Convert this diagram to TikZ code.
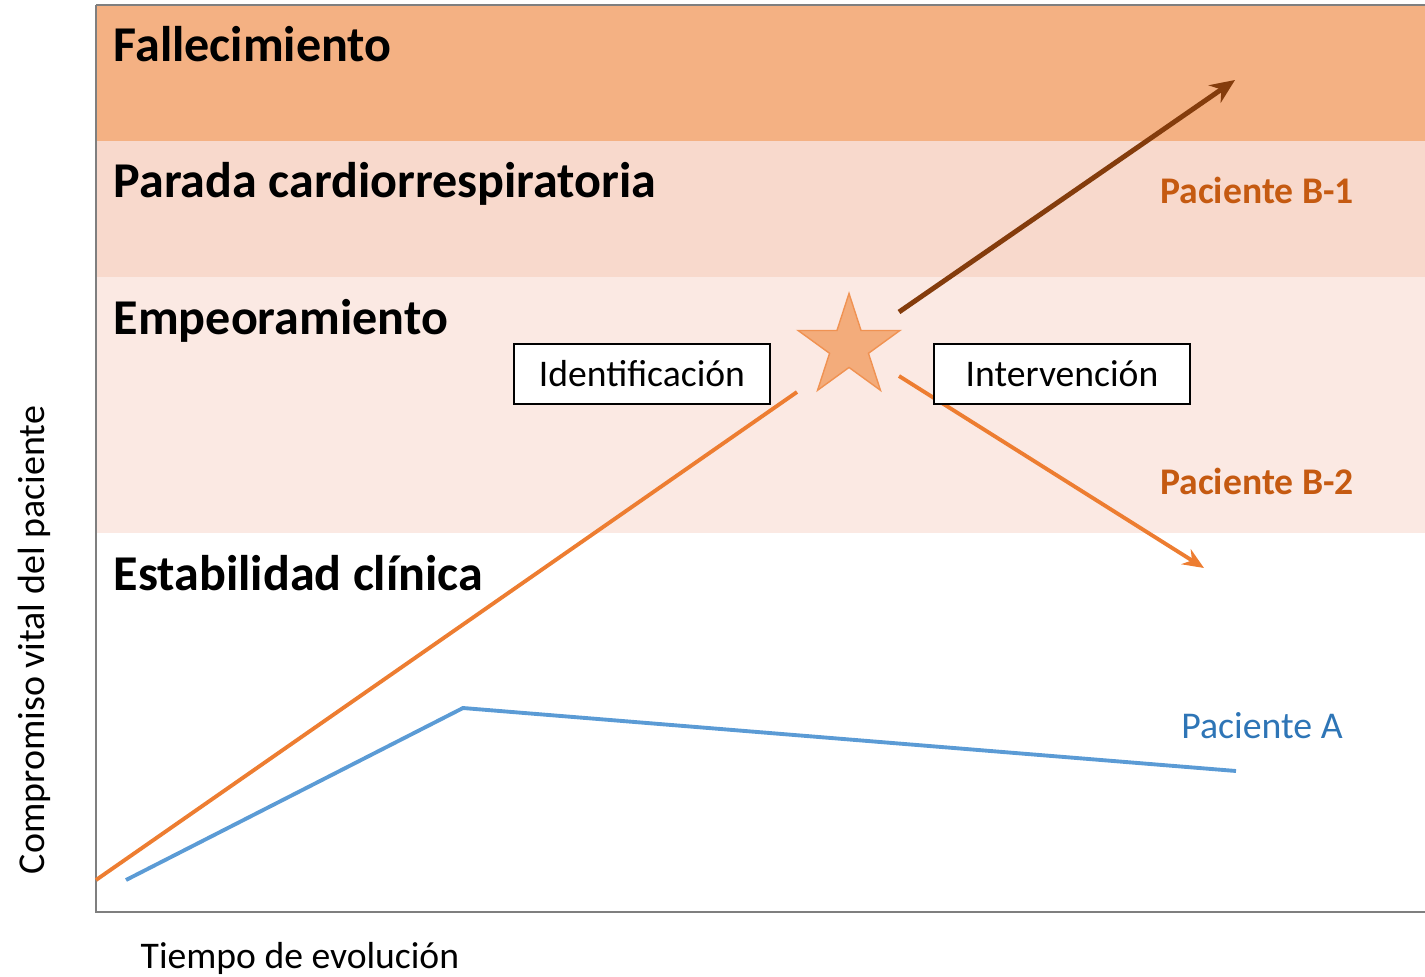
\documentclass[tikz,border=0pt]{standalone}
\usepackage{fontspec}
\setmainfont{Carlito}
\usetikzlibrary{shapes.geometric,arrows.meta}

\definecolor{fallcol}{HTML}{F4B183}
\definecolor{paradacol}{HTML}{F8D9CC}
\definecolor{empcol}{HTML}{FBE9E3}
\definecolor{orangeline}{HTML}{ED7D31}
\definecolor{brownline}{HTML}{843C0C}
\definecolor{blueline}{HTML}{5B9BD5}
\definecolor{bluetext}{HTML}{2E75B6}
\definecolor{labcol}{HTML}{C55A11}
\definecolor{axiscol}{HTML}{7F7F7F}

\begin{document}
\begin{tikzpicture}[x=0.01cm,y=-0.01cm,
	bandlabel/.style={anchor=base west,inner sep=0pt,font=\fontsize{14.25}{16}\selectfont\bfseries},
	patlabel/.style={anchor=base,inner sep=0pt,font=\fontsize{10.7}{12}\selectfont\bfseries,text=labcol},
	stagebox/.style={draw=black,fill=white,line width=0.5pt,minimum width=2.56cm,minimum height=0.6cm,inner sep=0pt,font=\fontsize{10.7}{12}\selectfont}]
			\useasboundingbox (0,0) rectangle (1425,976);
			\pgfmathsetmacro{\xl}{96}
			\pgfmathsetmacro{\xr}{1425}
			% bands
			\fill[fallcol] (\xl,5) rectangle (\xr,141);
			\fill[paradacol] (\xl,141) rectangle (\xr,277);
			\fill[empcol] (\xl,277) rectangle (\xr,533);
			\draw[axiscol,line width=0.6pt] (\xl,5) -- (\xr,5);
			\draw[axiscol,line width=0.6pt] (\xl,5) -- (\xl,912) -- (\xr,912);
			\node[bandlabel] (fall) at (113,62) {Fallecimiento};
			\node[bandlabel] (parada) at (113,198) {Parada cardiorrespiratoria};
			\node[bandlabel] (emp) at (113,334) {Empeoramiento};
			\node[bandlabel] (estab) at (113,590) {Estabilidad clínica};
			% axis titles
			\node[anchor=base west,inner sep=0pt,font=\fontsize{10.7}{12}\selectfont] (xtitle) at (140,968) {Tiempo de evolución};
			\node[rotate=90,inner sep=0pt,font=\fontsize{10.8}{12}\selectfont] (ytitle) at (34,640) {Compromiso vital del paciente};
			% patient A
			\coordinate (a0) at (126,880);
			\coordinate (a1) at (463,708);
			\coordinate (a2) at (1236,771);
			\draw[blueline,line width=1.1pt] (a0) -- (a1) -- (a2);
			\node[anchor=base,inner sep=0pt,font=\fontsize{10.75}{12}\selectfont,text=bluetext] (patA) at (1262,738) {Paciente A};
			% patient B
			\node[star,star points=5,star point ratio=2.618,minimum size=1.07cm,inner sep=0pt,fill=fallcol!90!orangeline,draw=orangeline!60!fallcol,line width=0.4pt] (star) at (849,347) {};
			\coordinate (b0) at (96,880);
			\coordinate (b1) at (797,392);
			\coordinate (c0) at (899,312);
			\coordinate (c1) at (1235,80);
			\coordinate (d0) at (899,376);
			\coordinate (d1) at (1204,568);
			\draw[orangeline,line width=1.1pt] (b0) -- (b1);
			\draw[brownline,line width=1.4pt,-{Stealth[length=7pt,width=6pt]}] (c0) -- (c1);
			\draw[orangeline,line width=1.1pt,-{Stealth[length=6pt,width=5pt]}] (d0) -- (d1);
			\node[stagebox] (ident) at (642,374) {Identificación};
			\node[stagebox] (interv) at (1062,374) {Intervención};
			\node[patlabel] (pB1) at (1257,203) {Paciente B-1};
			\node[patlabel] (pB2) at (1257,494) {Paciente B-2};
		\end{tikzpicture}
\end{document}
